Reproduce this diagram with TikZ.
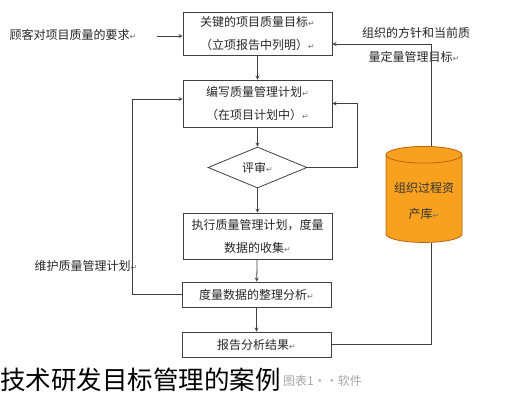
\documentclass[tikz,border=0pt]{standalone}
\usepackage{fontspec}
\setmainfont{Noto Sans CJK SC}
\newfontfamily\markfont{DejaVu Sans}
\usepackage{tikz}
\usetikzlibrary{shapes.geometric}
\definecolor{dbfill}{HTML}{F7A11F}
\definecolor{dbline}{HTML}{B8650F}
\newcommand{\retmark}{{\markfont\color{black!55}\fontsize{8}{8}\selectfont ↵}}
\tikzset{
  box/.style={draw=black!75, line width=0.8pt, minimum width=149, minimum height=#1,
    inner sep=0pt, align=center, font=\fontsize{12}{23}\selectfont, text=black!85},
  lbl/.style={font=\fontsize{12}{24}\selectfont, text=black!85, align=center, inner sep=1pt},
  line/.style={draw=black!75, line width=0.8pt},
}

\begin{document}
\begin{tikzpicture}[x=1pt, y=-1pt, >=stealth]
      \useasboundingbox (0,0) rectangle (506,400);
      % main column
      \node[box=43] (B1) at (257.5,33.5) {关键的项目质量目标\retmark\\（立项报告中列明）\retmark};
      \node[box=47] (B2) at (257.5,103.5) {编写质量管理计划\retmark\\（在项目计划中）\retmark};
      \node[diamond, draw=black!75, line width=0.8pt, aspect=2.4, minimum width=99,
        minimum height=41, inner sep=0pt, font=\fontsize{12}{14}\selectfont, text=black!85]
        (D) at (257.5,167.5) {评审\retmark};
      \node[box=46] (B3) at (257.5,236) {执行质量管理计划，度量\\数据的收集\retmark};
      \node[box=25] (B4) at (256.5,294.5) {度量数据的整理分析\retmark};
      \node[box=25] (B5) at (256.5,344.5) {报告分析结果\retmark};
      % asset library
      \node[cylinder, shape border rotate=90, aspect=0.25, draw=dbline, fill=dbfill,
        line width=0.8pt, minimum width=76, minimum height=96, align=center,
        font=\fontsize{12}{26}\selectfont, text=black!80] (C) at (424,200.5)
        {组织过程资\\产库\retmark};
      % labels
      \node[lbl] (L1) at (73,35) {顾客对项目质量的要求\retmark};
      \node[lbl] (R1) at (416,33) {组织的方针和当前质};
      \node[lbl] (R2) at (414,57) {量定量管理目标\retmark};
      \node[lbl] (L2) at (86,266) {维护质量管理计划\retmark};
      \coordinate (a1) at (157,36);
      \draw [line, ->] (a1) -- (a1 -| B1.west);
      \draw [line, ->] (B1) -- (B2);
      \draw [line, ->] (B2) -- (D);
      \draw [line, ->] (D) -- (B3);
      \draw [line, ->] (B3) -- (B4);
      \draw [line, ->] (B4) -- (B5);
      \draw [line, ->] (D.east) -- ++(50,0) |- (B2.east);
      \draw [line, ->] (B4.west) -- ++(-49,0) |- ([yshift=4.5]B2.west);
      \draw [line, ->] ([xshift=7]C.north) |- ([yshift=-10.5]B1.east);
      \draw [line] (B5.east) -| ([xshift=7]C.south);
      % caption
      \node[anchor=west, inner sep=0pt, font=\fontsize{12}{14}\selectfont, text=black!35]
        (cap) at (283,381) {图表1··软件};
      \node[anchor=west, inner sep=0pt, font=\fontsize{25.5}{28}\selectfont, text=black]
        (title) at (0,380) {技术研发目标管理的案例};
    \end{tikzpicture}
\end{document}
